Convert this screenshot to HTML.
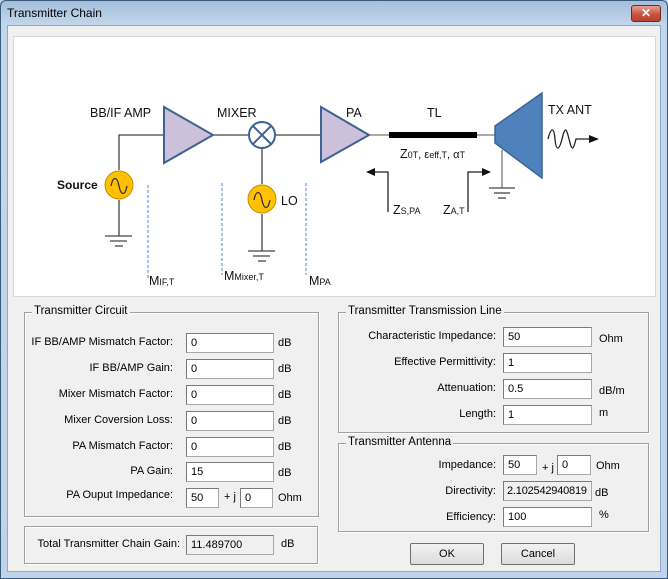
<!DOCTYPE html>
<html><head><style>
*{margin:0;padding:0;box-sizing:border-box}
body{width:668px;height:579px;overflow:hidden;background:#bcd3ea;font-family:"Liberation Sans",sans-serif;font-size:11px;color:#000;position:relative}
.win{position:absolute;left:0;top:0;width:668px;height:579px;border:1px solid #3a5a7a;border-radius:6px 6px 0 0;background:linear-gradient(#a5bfdc,#c3d7ec 25px,#bfd4ea);}
.title{position:absolute;left:7px;top:6px;font-size:12px;color:#000}
.close{position:absolute;left:631px;top:5px;width:30px;height:17px;border:1px solid #6b2a22;border-radius:3px;background:linear-gradient(#e8a196,#c8553f 55%,#b8402c);color:#fff;font-weight:bold;font-size:12px;text-align:center;line-height:15px}
.client{position:absolute;left:7px;top:25px;width:654px;height:547px;background:#f0f0f0;border:1px solid #8fa8c4}
.panel{position:absolute;left:13px;top:36px;width:643px;height:261px;background:#fff;border:1px solid #d8d8d8}
.a{position:absolute;white-space:nowrap}
.r{text-align:right}
.grp{position:absolute;border:1px solid #a0a0a0;box-shadow:inset 1px 1px 0 #fff,1px 1px 0 #fff}
.gt{position:absolute;top:-8px;left:7px;background:#f0f0f0;padding:0 2px;font-size:11.5px}
.in{position:absolute;height:20px;background:#fff;border:1px solid #a8a8a8;border-top-color:#7a7a7a;border-left-color:#7a7a7a;padding:3px 0 0 4px;font-size:11px;overflow:hidden;white-space:nowrap}
.ro{background:#f0f0f0}
.btn{position:absolute;height:22px;border:1px solid #707070;background:linear-gradient(#f2f2f2,#dcdcdc);text-align:center;line-height:20px;border-radius:2px}
</style></head><body>
<div class="win"></div>
<div class="title">Transmitter Chain</div>
<div class="close">✕</div>
<div class="client"></div>
<div class="panel"></div>
<svg class="a" style="left:0;top:0" width="668" height="300" font-family="Liberation Sans, sans-serif">
<g stroke="#444" stroke-width="1.3" fill="none">
<polyline points="119,170 119,135 164,135"/>
<line x1="119" y1="200" x2="119" y2="236"/>
<line x1="105" y1="236" x2="132" y2="236"/><line x1="110" y1="241" x2="127" y2="241"/><line x1="115" y1="246" x2="123" y2="246"/>
<line x1="213" y1="135" x2="248" y2="135"/>
<line x1="276" y1="135" x2="321" y2="135"/>
<line x1="262" y1="149" x2="262" y2="184"/>
<line x1="262" y1="214" x2="262" y2="251"/>
<line x1="248" y1="251" x2="275" y2="251"/><line x1="253" y1="256" x2="270" y2="256"/><line x1="258" y1="261" x2="266" y2="261"/>
<line x1="369" y1="135" x2="389" y2="135" stroke="#777"/>
<line x1="477" y1="135" x2="495" y2="135" stroke="#777"/>
<line x1="502" y1="150" x2="502" y2="188" stroke="#777"/>
<line x1="489" y1="188" x2="515" y2="188"/><line x1="494" y1="193" x2="510" y2="193"/><line x1="498" y1="198" x2="506" y2="198"/>
<polyline points="388,212 388,172 374,172" stroke="#222"/>
<polyline points="468,212 468,172 484,172" stroke="#222"/>
<path d="M548,139 c3,-12 6,-12 7,0 s4,12 7,0 s4,-12 7,0 s4,12 7,0 L590,139" stroke="#222"/>
</g>
<polygon points="366,172 375,168 375,176" fill="#111"/>
<polygon points="491,172 482,168 482,176" fill="#111"/>
<polygon points="599,139 589,135 589,143" fill="#111"/>
<g stroke="#6b9bd2" stroke-width="1.2" stroke-dasharray="3,2">
<line x1="148" y1="185" x2="148" y2="280"/><line x1="222" y1="183" x2="222" y2="275"/><line x1="306" y1="183" x2="306" y2="275"/>
</g>
<polygon points="164,107 213,135 164,163" fill="#ccc0da" stroke="#3e6291" stroke-width="2"/>
<polygon points="321,107 369,135 321,162" fill="#ccc0da" stroke="#3e6291" stroke-width="2"/>
<circle cx="262" cy="135" r="13" fill="#fff" stroke="#3e6291" stroke-width="2"/>
<path d="M253,126 L271,144 M271,126 L253,144" stroke="#3e6291" stroke-width="2"/>
<g fill="#ffc000" stroke="#c09100" stroke-width="1">
<circle cx="119" cy="185" r="14"/><circle cx="262" cy="199" r="14"/></g>
<path d="M111,186 c2,-10 6,-10 8,0 s6,10 8,0 M254,200 c2,-10 6,-10 8,0 s6,10 8,0" stroke="#333" stroke-width="1.3" fill="none"/>
<rect x="389" y="132" width="88" height="6" fill="#000"/>
<polygon points="495,126 542,93 542,178 495,143" fill="#4f81bd" stroke="#3a6696" stroke-width="1.5"/>
<g font-size="12.5" fill="#111">
<text x="90" y="117">BB/IF AMP</text><text x="217" y="117">MIXER</text>
<text x="346" y="117">PA</text><text x="427" y="117">TL</text><text x="548" y="114">TX ANT</text>
<text x="57" y="189" font-weight="bold" font-size="12">Source</text><text x="281" y="205">LO</text>
<text x="149" y="285">M<tspan font-size="9">IF,T</tspan></text>
<text x="224" y="280">M<tspan font-size="9">Mixer,T</tspan></text>
<text x="309" y="285">M<tspan font-size="9">PA</tspan></text>
<text x="400" y="158">Z<tspan font-size="9">0T</tspan><tspan font-size="11">, ε</tspan><tspan font-size="9">eff,T</tspan><tspan font-size="11">, α</tspan><tspan font-size="9">T</tspan></text>
<text x="393" y="214">Z<tspan font-size="9">S,PA</tspan></text>
<text x="443" y="214">Z<tspan font-size="9">A,T</tspan></text>
</g>
</svg>

<div class="grp" style="left:24px;top:312px;width:295px;height:205px"><span class="gt">Transmitter Circuit</span></div>
<div class="a r" style="left:20px;width:153px;top:336px">IF BB/AMP Mismatch Factor:</div>
<div class="a r" style="left:20px;width:153px;top:362px">IF BB/AMP Gain:</div>
<div class="a r" style="left:20px;width:153px;top:388px">Mixer Mismatch Factor:</div>
<div class="a r" style="left:20px;width:153px;top:414px">Mixer Coversion Loss:</div>
<div class="a r" style="left:20px;width:153px;top:440px">PA Mismatch Factor:</div>
<div class="a r" style="left:20px;width:153px;top:465px">PA Gain:</div>
<div class="a r" style="left:20px;width:153px;top:489px">PA Ouput Impedance:</div>
<div class="in" style="left:186px;top:333px;width:88px">0</div>
<div class="in" style="left:186px;top:359px;width:88px">0</div>
<div class="in" style="left:186px;top:385px;width:88px">0</div>
<div class="in" style="left:186px;top:411px;width:88px">0</div>
<div class="in" style="left:186px;top:437px;width:88px">0</div>
<div class="in" style="left:186px;top:462px;width:88px">15</div>
<div class="in" style="left:186px;top:488px;width:33px">50</div>
<div class="a" style="left:224px;top:491px">+ j</div>
<div class="in" style="left:240px;top:488px;width:33px">0</div>
<div class="a" style="left:278px;top:337px">dB</div><div class="a" style="left:278px;top:363px">dB</div>
<div class="a" style="left:278px;top:389px">dB</div><div class="a" style="left:278px;top:415px">dB</div>
<div class="a" style="left:278px;top:441px">dB</div><div class="a" style="left:278px;top:467px">dB</div>
<div class="a" style="left:278px;top:492px">Ohm</div>

<div class="grp" style="left:24px;top:526px;width:294px;height:38px"></div>
<div class="a r" style="left:20px;width:160px;top:538px">Total Transmitter Chain Gain:</div>
<div class="in ro" style="left:186px;top:535px;width:88px">11.489700</div>
<div class="a" style="left:281px;top:538px">dB</div>

<div class="grp" style="left:338px;top:312px;width:311px;height:121px"><span class="gt">Transmitter Transmission Line</span></div>
<div class="a r" style="left:340px;width:156px;top:330px">Characteristic Impedance:</div>
<div class="a r" style="left:340px;width:156px;top:356px">Effective Permittivity:</div>
<div class="a r" style="left:340px;width:156px;top:382px">Attenuation:</div>
<div class="a r" style="left:340px;width:156px;top:408px">Length:</div>
<div class="in" style="left:503px;top:327px;width:89px">50</div>
<div class="in" style="left:503px;top:353px;width:89px">1</div>
<div class="in" style="left:503px;top:379px;width:89px">0.5</div>
<div class="in" style="left:503px;top:405px;width:89px">1</div>
<div class="a" style="left:599px;top:333px">Ohm</div>
<div class="a" style="left:599px;top:385px">dB/m</div>
<div class="a" style="left:599px;top:407px">m</div>

<div class="grp" style="left:338px;top:443px;width:311px;height:89px"><span class="gt">Transmitter Antenna</span></div>
<div class="a r" style="left:340px;width:156px;top:459px">Impedance:</div>
<div class="a r" style="left:340px;width:156px;top:485px">Directivity:</div>
<div class="a r" style="left:340px;width:156px;top:511px">Efficiency:</div>
<div class="in" style="left:503px;top:455px;width:34px">50</div>
<div class="a" style="left:542px;top:462px">+ j</div>
<div class="in" style="left:557px;top:455px;width:34px">0</div>
<div class="a" style="left:596px;top:460px">Ohm</div>
<div class="in ro" style="left:503px;top:481px;width:89px;padding-left:3px;letter-spacing:-0.2px">2.102542940819</div>
<div class="a" style="left:595px;top:487px">dB</div>
<div class="in" style="left:503px;top:507px;width:89px">100</div>
<div class="a" style="left:599px;top:509px">%</div>

<div class="btn" style="left:410px;top:543px;width:74px">OK</div>
<div class="btn" style="left:501px;top:543px;width:74px">Cancel</div>
</body></html>
